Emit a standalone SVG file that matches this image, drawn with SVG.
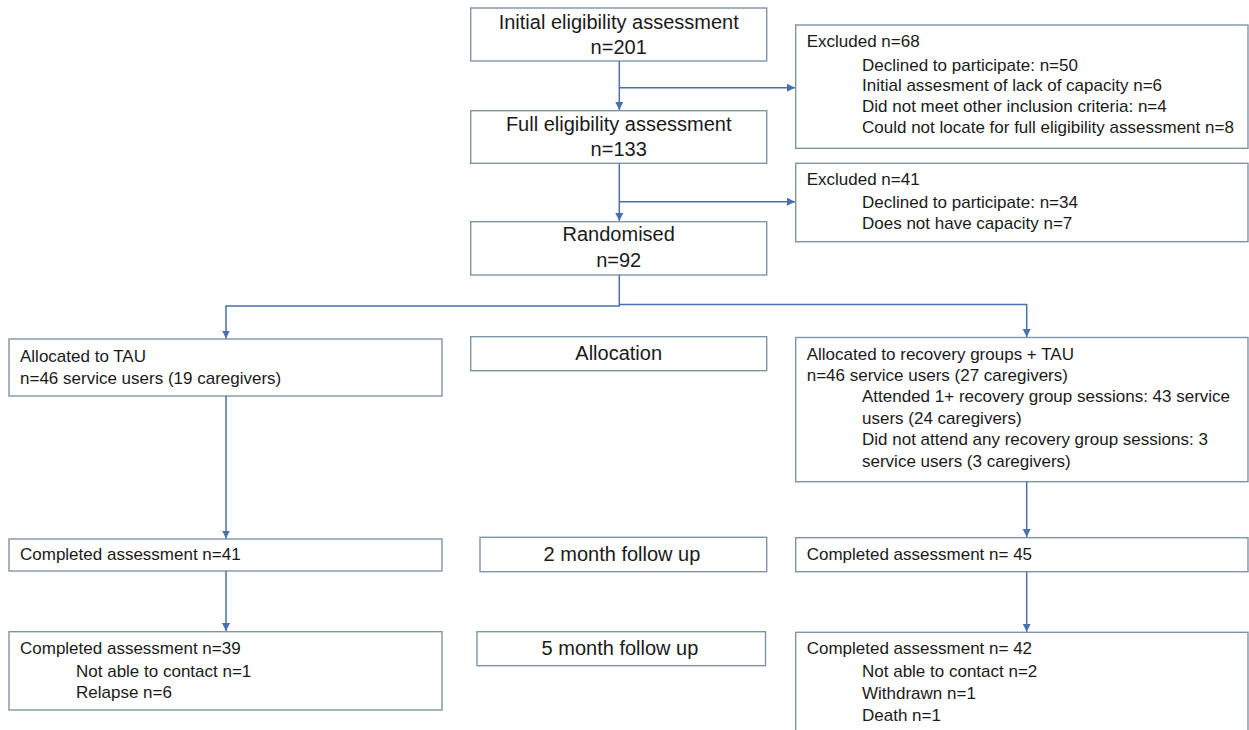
<svg xmlns="http://www.w3.org/2000/svg" width="1249" height="730" viewBox="0 0 1249 730">
  <style>
    .box { fill: #ffffff; stroke: #7f94a8; stroke-width: 1.4; }
    .conn { fill: none; stroke: #4a6fae; stroke-width: 1.5; }
    .big { font-family: "Liberation Sans", Arial, sans-serif; font-size: 20px; fill: #1a1a1a; }
    .sm { font-family: "Liberation Sans", Arial, sans-serif; font-size: 17px; fill: #1a1a1a; }
    .mid { text-anchor: middle; }
  </style>
  <defs>
    <marker id="arr" markerUnits="userSpaceOnUse" markerWidth="10" markerHeight="10" refX="8" refY="4" orient="auto">
      <path d="M0,0 L8,4 L0,8 Z" fill="#4a6fae"/>
    </marker>
  </defs>
  <rect width="1249" height="730" fill="#ffffff"/>

  <g id="initial">
    <rect class="box" x="470.7" y="8" width="296" height="53"/>
    <text class="big mid" x="618.7" y="28.5">Initial eligibility assessment</text>
    <text class="big mid" x="618.7" y="54">n=201</text>
  </g>
  <g id="full">
    <rect class="box" x="470.7" y="110.7" width="296" height="52.6"/>
    <text class="big mid" x="618.7" y="130.5">Full eligibility assessment</text>
    <text class="big mid" x="618.7" y="155.7">n=133</text>
  </g>
  <g id="randomised">
    <rect class="box" x="470.7" y="221.7" width="296" height="53.3"/>
    <text class="big mid" x="618.7" y="241">Randomised</text>
    <text class="big mid" x="618.7" y="266.7">n=92</text>
  </g>
  <g id="excluded1">
    <rect class="box" x="795.7" y="25" width="452.3" height="123.3"/>
    <text class="sm" x="806.7" y="47.3">Excluded n=68</text>
    <text class="sm" x="862" y="70.7">Declined to participate: n=50</text>
    <text class="sm" x="862" y="91.3">Initial assesment of lack of capacity n=6</text>
    <text class="sm" x="862" y="112">Did not meet other inclusion criteria: n=4</text>
    <text class="sm" x="862" y="132.5">Could not locate for full eligibility assessment n=8</text>
  </g>
  <g id="excluded2">
    <rect class="box" x="795.7" y="163.3" width="452.3" height="78.4"/>
    <text class="sm" x="806.7" y="185">Excluded n=41</text>
    <text class="sm" x="862" y="208">Declined to participate: n=34</text>
    <text class="sm" x="862" y="228.5">Does not have capacity n=7</text>
  </g>
  <g id="tau">
    <rect class="box" x="9" y="339" width="433" height="57"/>
    <text class="sm" x="20" y="361.5">Allocated to TAU</text>
    <text class="sm" x="20" y="383.5">n=46 service users (19 caregivers)</text>
  </g>
  <g id="allocation">
    <rect class="box" x="470.7" y="336.7" width="296" height="34"/>
    <text class="big mid" x="618.7" y="360">Allocation</text>
  </g>
  <g id="recovery">
    <rect class="box" x="795.7" y="337.5" width="452.3" height="144.2"/>
    <text class="sm" x="806.7" y="360">Allocated to recovery groups + TAU</text>
    <text class="sm" x="806.7" y="381">n=46 service users (27 caregivers)</text>
    <text class="sm" x="862" y="402">Attended 1+ recovery group sessions: 43 service</text>
    <text class="sm" x="862" y="423.5">users (24 caregivers)</text>
    <text class="sm" x="862" y="445">Did not attend any recovery group sessions: 3</text>
    <text class="sm" x="862" y="466.5">service users (3 caregivers)</text>
  </g>
  <g id="tau-2m">
    <rect class="box" x="9" y="539" width="433" height="32"/>
    <text class="sm" x="20" y="560">Completed assessment n=41</text>
  </g>
  <g id="label-2m">
    <rect class="box" x="480" y="537.3" width="286.7" height="34.4"/>
    <text class="big mid" x="622" y="561">2 month follow up</text>
  </g>
  <g id="rec-2m">
    <rect class="box" x="795.7" y="537.7" width="452.3" height="34"/>
    <text class="sm" x="806.7" y="559.5">Completed assessment n= 45</text>
  </g>
  <g id="tau-5m">
    <rect class="box" x="9" y="631.7" width="433" height="78.3"/>
    <text class="sm" x="20" y="654">Completed assessment n=39</text>
    <text class="sm" x="76" y="677">Not able to contact n=1</text>
    <text class="sm" x="76" y="698.3">Relapse n=6</text>
  </g>
  <g id="label-5m">
    <rect class="box" x="477" y="631.7" width="288.5" height="34"/>
    <text class="big mid" x="620" y="655">5 month follow up</text>
  </g>
  <g id="rec-5m">
    <rect class="box" x="795.7" y="632.3" width="452.3" height="110"/>
    <text class="sm" x="806.7" y="654.3">Completed assessment n= 42</text>
    <text class="sm" x="862" y="677.3">Not able to contact n=2</text>
    <text class="sm" x="862" y="699">Withdrawn n=1</text>
    <text class="sm" x="862" y="720.7">Death n=1</text>
  </g>

  <g id="connectors">
    <path class="conn" d="M619.3,61 V110" marker-end="url(#arr)"/>
    <path class="conn" d="M619.3,87.7 H795" marker-end="url(#arr)"/>
    <path class="conn" d="M619.3,163.3 V221" marker-end="url(#arr)"/>
    <path class="conn" d="M619.3,201.7 H795" marker-end="url(#arr)"/>
    <path class="conn" d="M619.3,275 V306 H226 V338.5" marker-end="url(#arr)"/>
    <path class="conn" d="M619.3,304.5 H1026.7 V337" marker-end="url(#arr)"/>
    <path class="conn" d="M226,396 V538.5" marker-end="url(#arr)"/>
    <path class="conn" d="M226,571 V631" marker-end="url(#arr)"/>
    <path class="conn" d="M1026.7,481.7 V537" marker-end="url(#arr)"/>
    <path class="conn" d="M1026.7,571.7 V631.7" marker-end="url(#arr)"/>
  </g>
</svg>
